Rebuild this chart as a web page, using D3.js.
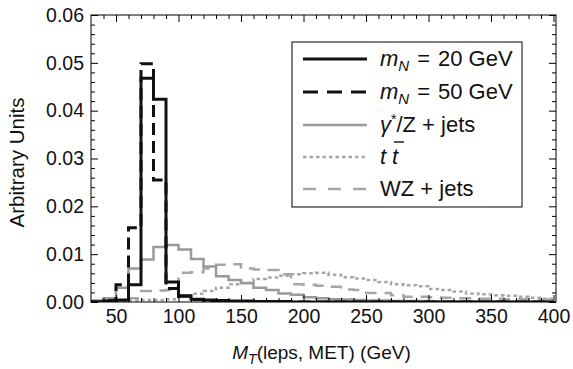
<!DOCTYPE html>
<html>
<head>
<meta charset="utf-8">
<script src="https://cdn.jsdelivr.net/npm/d3@7"></script>
<style>
  body { margin: 0; background: white; }
  text { font-family: "Liberation Sans", Arial, sans-serif; }
</style>
</head>
<body>
<div id="container"></div>
<script>
// M_T distribution, signal vs backgrounds (10 GeV bins)

const binStarts = [30, 40, 50, 60, 70, 80, 90, 100, 110, 120, 130, 140, 150, 160, 170, 180, 190, 200, 210,
    220, 230, 240, 250, 260, 270, 280, 290, 300, 310, 320, 330, 340, 350, 360, 370, 380, 390]
const binWidth = 10

const mN20 = [0, 0.0002, 0.0004, 0.0036, 0.0468, 0.0424, 0.0042, 0.0013, 0.0006, 0.0004, 0.0003, 0.0002, 0.0002,
    0.0001, 0.0001, 0.0001, 0, 0, 0, 0, 0, 0, 0, 0, 0, 0, 0, 0, 0, 0, 0, 0, 0, 0, 0, 0, 0]
const mN50 = [0, 0.0003, 0.0036, 0.0155, 0.0498, 0.0255, 0.0028, 0.0012, 0.0005, 0.0003, 0.0002, 0.0001, 0.0001,
    0, 0, 0, 0, 0, 0, 0, 0, 0, 0, 0, 0, 0, 0, 0, 0, 0, 0, 0, 0, 0, 0, 0, 0]
const dyJets = [0.0003, 0.0008, 0.0030, 0.0070, 0.0089, 0.0115, 0.0119, 0.0110, 0.0090, 0.0074, 0.0054, 0.0046,
    0.0039, 0.0030, 0.0025, 0.0018, 0.0015, 0.0010, 0.0008, 0.0006, 0.0005, 0.0004, 0.0003, 0.0003, 0.0002,
    0.0002, 0.0002, 0.0001, 0.0001, 0.0001, 0.0001, 0.0001, 0.0001, 0, 0, 0, 0]
const ttbar = [0, 0.0001, 0.0002, 0.0003, 0.0004, 0.0004, 0.0006, 0.0012, 0.0017, 0.0023, 0.0030, 0.0037, 0.0040,
    0.0048, 0.0051, 0.0055, 0.0058, 0.0060, 0.0061, 0.0057, 0.0052, 0.0049, 0.0046, 0.0042, 0.0037, 0.0035,
    0.0033, 0.0027, 0.0025, 0.0022, 0.0018, 0.0016, 0.0014, 0.0013, 0.0011, 0.0009, 0.0007]
const wzJets = [0.0001, 0.0002, 0.0003, 0.0008, 0.0023, 0.0024, 0.0025, 0.0061, 0.0062, 0.0070, 0.0078, 0.0079,
    0.0070, 0.0068, 0.0067, 0.0058, 0.0037, 0.0036, 0.0034, 0.0032, 0.0026, 0.0025, 0.0019, 0.0019, 0.0014,
    0.0011, 0.0011, 0.0010, 0.0009, 0.0008, 0.0008, 0.0007, 0.0007, 0.0006, 0.0006, 0.0005, 0.0005]

const xTicks = [50, 100, 150, 200, 250, 300, 350, 400]
const yTicks = [0, 0.01, 0.02, 0.03, 0.04, 0.05, 0.06]

const width = 573,
    height = 369
const plot = { left: 91, right: 556, top: 15, bottom: 302 }

const svg = d3.select("#container").append("svg")
    .attr("width", width)
    .attr("height", height)

const x = d3.scaleLinear().domain([30, 402]).range([plot.left, plot.right])
const y = d3.scaleLinear().domain([0, 0.06]).range([plot.bottom, plot.top])

svg.append("clipPath").attr("id", "clip")
    .append("rect")
    .attr("x", plot.left).attr("y", plot.top)
    .attr("width", plot.right - plot.left).attr("height", plot.bottom - plot.top)

const series = [
    { name: "wz", values: wzJets, color: "#a6a6a6", w: 2.5, dash: "12,8" },
    { name: "tt", values: ttbar, color: "#a6a6a6", w: 2.5, dash: "3.5,3" },
    { name: "dy", values: dyJets, color: "#999", w: 2.5, dash: null },
    { name: "m50", values: mN50, color: "#111", w: 3, dash: "12,6" },
    { name: "m20", values: mN20, color: "#111", w: 3, dash: null },
]

const step = d3.line()
    .x(d => x(d[0]))
    .y(d => y(d[1]))
    .curve(d3.curveStepAfter)

const curves = svg.append("g").attr("clip-path", "url(#clip)")
series.forEach(s => {
    let pts = [[binStarts[0], 0]]
    s.values.forEach((v, i) => pts.push([binStarts[i], v]))
    pts.push([binStarts[binStarts.length - 1] + binWidth, s.values[s.values.length - 1]])
    curves.append("path")
        .attr("class", "hist " + s.name)
        .attr("d", step(pts))
        .attr("fill", "none")
        .attr("stroke", s.color)
        .attr("stroke-width", s.w)
        .attr("stroke-dasharray", s.dash)
})

// frame with inward ticks on all four sides
const xMinor = d3.range(40, 401, 10).filter(v => v % 50 !== 0)
const yMinor = d3.range(0.002, 0.06, 0.002).filter(v => Math.abs(v * 100 - Math.round(v * 100)) > 1e-6)

function ticks(axis, pos, major, minor, fmt) {
    let g = svg.append("g").attr("transform", pos)
    g.append("g").call(axis.tickValues(minor).tickSize(-4).tickFormat(""))
    g.append("g").call(axis.tickValues(major).tickSize(-7).tickPadding(7).tickFormat(fmt))
    g.selectAll(".domain").remove()
    g.selectAll("line").attr("stroke", "#000")
    g.selectAll("text").style("font-size", "19.5px").attr("fill", "#111")
    return g
}

ticks(d3.axisBottom(x), `translate(0,${plot.bottom})`, xTicks, xMinor, d3.format("d"))
ticks(d3.axisTop(x), `translate(0,${plot.top})`, xTicks, xMinor, "")
ticks(d3.axisLeft(y), `translate(${plot.left},0)`, yTicks, yMinor, d3.format(".2f"))
ticks(d3.axisRight(y), `translate(${plot.right},0)`, yTicks, yMinor, "")

svg.append("rect")
    .attr("x", plot.left).attr("y", plot.top)
    .attr("width", plot.right - plot.left).attr("height", plot.bottom - plot.top)
    .attr("fill", "none").attr("stroke", "#000").attr("stroke-width", 1)

// axis titles
svg.append("text")
    .attr("transform", `translate(24,${(plot.top + plot.bottom) / 2 + 4}) rotate(-90)`)
    .attr("text-anchor", "middle")
    .style("font-size", "20.5px")
    .attr("fill", "#111")
    .text("Arbitrary Units")

const xt = svg.append("text")
    .attr("x", (plot.left + plot.right) / 2 - 2).attr("y", 359)
    .attr("text-anchor", "middle")
    .style("font-size", "19px")
    .attr("fill", "#111")
xt.append("tspan").attr("font-style", "italic").text("M")
xt.append("tspan").attr("font-style", "italic").attr("dy", 5).style("font-size", "14px").text("T")
xt.append("tspan").attr("dy", -5).text("(leps, MET) (GeV)")

// legend
const legend = svg.append("g").attr("id", "legend")
legend.append("rect")
    .attr("x", 292).attr("y", 42).attr("width", 230).attr("height", 165)
    .attr("fill", "white").attr("stroke", "#000").attr("stroke-width", 1)

const legendRows = [
    { s: series[4], y: 59 },
    { s: series[3], y: 92 },
    { s: series[2], y: 125 },
    { s: series[1], y: 157 },
    { s: series[0], y: 189 },
]
legendRows.forEach(r => {
    legend.append("line")
        .attr("x1", 303).attr("x2", 367).attr("y1", r.y).attr("y2", r.y)
        .attr("stroke", r.s.color).attr("stroke-width", r.s.w)
        .attr("stroke-dasharray", r.s.dash === "12,6" ? "15,9" : r.s.dash === "12,8" ? "13,12" : r.s.dash)
})

function legendText(yy) {
    return legend.append("text").attr("x", 380).attr("y", yy + 7)
        .style("font-size", "22px").attr("fill", "#111")
}
let t1 = legendText(59)
t1.append("tspan").attr("font-style", "italic").text("m")
t1.append("tspan").attr("font-style", "italic").attr("dy", 5).style("font-size", "15px").text("N")
t1.append("tspan").attr("dy", -5).attr("dx", 8).text("=")
t1.append("tspan").attr("dx", 8).text("20 GeV")
let t2 = legendText(92)
t2.append("tspan").attr("font-style", "italic").text("m")
t2.append("tspan").attr("font-style", "italic").attr("dy", 5).style("font-size", "15px").text("N")
t2.append("tspan").attr("dy", -5).attr("dx", 8).text("=")
t2.append("tspan").attr("dx", 8).text("50 GeV")
let t3 = legendText(125)
t3.append("tspan").attr("font-style", "italic").text("γ")
t3.append("tspan").attr("dy", -8).style("font-size", "14px").text("*")
t3.append("tspan").attr("dy", 8).text("/Z + jets")
legendText(157).attr("font-style", "italic").text("t")
legendText(157).attr("x", 392).attr("font-style", "italic").text("t")
legend.append("line")
    .attr("x1", 394).attr("x2", 404).attr("y1", 142).attr("y2", 142)
    .attr("stroke", "#111").attr("stroke-width", 1.4)
legendText(189).text("WZ + jets")
</script>
</body>
</html>
